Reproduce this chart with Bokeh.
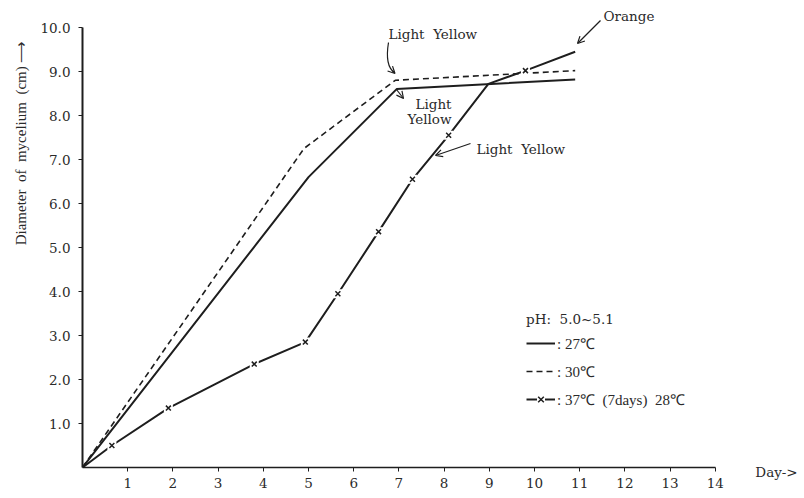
import math
from bokeh.plotting import figure
from bokeh.models import (FixedTicker, Label, Arrow, OpenHead, Legend, LegendItem, Range1d, Title)
from bokeh.embed import file_html
from bokeh.resources import INLINE

# ---- data ----
days_27 = [0, 5.0, 6.95, 10.9]
diam_27 = [0, 6.6, 8.6, 8.82]

days_30 = [0, 4.9, 6.92, 10.9]
diam_30 = [0, 7.25, 8.8, 9.02]

days_37 = [0, 0.65, 1.9, 3.8, 4.93, 5.65, 6.55, 7.3, 8.1, 8.98, 9.8, 10.9]
diam_37 = [0, 0.5, 1.35, 2.35, 2.85, 3.95, 5.36, 6.55, 7.55, 8.72, 9.02, 9.45]
mark_37 = [0, 1, 1, 1, 1, 1, 1, 1, 1, 0, 1, 0]

x_ticks = list(range(1, 15))
y_ticks = [1, 2, 3, 4, 5, 6, 7, 8, 9, 10]
y_tick_labels = {int(v): f"{v:.1f}" for v in y_ticks}

NB = "\u00a0"
legend_title = f"pH:{NB}{NB}5.0~5.1"
legend_labels = [": 27℃", ": 30℃", f": 37℃{NB}{NB}(7days){NB}{NB}28℃"]
y_label = f"Diameter{NB}{NB}of{NB}{NB}mycelium{NB}{NB}(cm){NB}⟶"
x_label = "Day->"

# ---- layout ----
W, H = 804, 498
L, B, R = 82, 31, 28
PXX, PXY = 45.2, 44.0          # pixels per day / per cm
X0, Y0 = L, H - B               # pixel position of the origin

def dx(px):
    return (px - X0) / PXX

def dy(py):
    return (Y0 - py) / PXY

SERIF = "Liberation Serif"
WIDE = "DejaVu Serif"
INK = "#1e1e1e"
TXT = "#2a2a2a"

p = figure(width=W, height=H, x_range=Range1d(0, dx(W - R)), y_range=Range1d(0, dy(0)),
           output_backend="svg", toolbar_location=None,
           min_border_left=L, min_border_right=R, min_border_top=0, min_border_bottom=B)
p.outline_line_color = None
p.grid.grid_line_color = None
p.background_fill_color = "white"
p.border_fill_color = "white"

for ax in (p.xaxis[0], p.yaxis[0]):
    ax.major_label_text_font = WIDE
    ax.major_label_text_font_size = "13.5px"
    ax.major_label_text_color = TXT
    ax.axis_line_color = INK
    ax.major_tick_line_color = INK
    ax.minor_tick_line_color = None
    ax.major_tick_in = 0
    ax.major_tick_out = 4
    ax.major_label_standoff = 6

xa = p.xaxis[0]
xa.ticker = FixedTicker(ticks=x_ticks)
xa.bounds = (0, 14)
xa.axis_line_width = 1.5
xa.axis_label = x_label
xa.axis_label_text_font = WIDE
xa.axis_label_text_font_size = "13.5px"
xa.axis_label_text_font_style = "normal"
xa.axis_label_text_color = TXT
xa.axis_label_standoff = -27
xa.axis_label_align = "end"

ya = p.yaxis[0]
ya.ticker = FixedTicker(ticks=y_ticks)
ya.bounds = (0, 10)
ya.major_label_overrides = y_tick_labels
ya.axis_line_width = 2
ya.major_label_standoff = 8

p.add_layout(Title(text=y_label, align="right", offset=40, standoff=18,
                   text_font=SERIF, text_font_size="15px", text_font_style="normal",
                   text_color=TXT), "left")

# ---- series ----
r27 = p.line(days_27, diam_27, line_color=INK, line_width=2)
r30 = p.line(days_30, diam_30, line_color=INK, line_width=1.6, line_dash="6 4")
r37 = p.line(days_37, diam_37, line_color=INK, line_width=2)
mx = [d for d, m in zip(days_37, mark_37) if m]
my = [v for v, m in zip(diam_37, mark_37) if m]
r37gap = p.scatter(mx, my, marker="square", size=9, fill_color="white", line_color=None)
r37x = p.scatter(mx, my, marker="x", size=7, line_color=INK, line_width=1.5)

# ---- legend ----
legend = Legend(items=[
    LegendItem(label=legend_labels[0], renderers=[r27]),
    LegendItem(label=legend_labels[1], renderers=[r30]),
    LegendItem(label=legend_labels[2], renderers=[r37, r37gap, r37x]),
], title=legend_title, location=(444, 58), orientation="vertical",
    border_line_color=None, background_fill_alpha=0, padding=0, margin=0,
    glyph_width=29, glyph_height=20, label_height=20, spacing=8, label_standoff=2,
    label_text_font=SERIF, label_text_font_size="15px", label_text_color=TXT,
    title_text_font=WIDE, title_text_font_size="13.5px", title_text_color=TXT,
    title_text_font_style="normal", title_standoff=6)
p.add_layout(legend)

# ---- texts ----
def label(txt, px, py, align="left", size="13.5px"):
    p.add_layout(Label(x=dx(px), y=dy(py), text=txt, text_font=WIDE, text_font_size=size,
                       text_color=TXT, text_align=align, text_baseline="middle"))

label(f"Light{NB}{NB}Yellow", 388, 33)
label("Light", 415, 103)
label("Yellow", 407, 118)
label(f"Light{NB}{NB}Yellow", 476, 148)
label("Orange", 603, 15)

# ---- arrows ----
def arrow(x0, y0, x1, y1):
    p.add_layout(Arrow(x_start=dx(x0), y_start=dy(y0), x_end=dx(x1), y_end=dy(y1),
                       line_color=INK, line_width=1.2,
                       end=OpenHead(size=7, line_color=INK, line_width=1.2)))

p.bezier(x0=[dx(388)], y0=[dy(42)], x1=[dx(394)], y1=[dy(72)],
         cx0=[dx(385)], cy0=[dy(60)], cx1=[dx(388)], cy1=[dy(68)],
         line_color=INK, line_width=1.2)
arrow(392, 70.5, 394.5, 73)
arrow(396, 89, 403, 98)
arrow(470, 143, 435, 155)
arrow(600, 20, 577, 43)

open("out.html", "w").write(file_html(p, INLINE))
